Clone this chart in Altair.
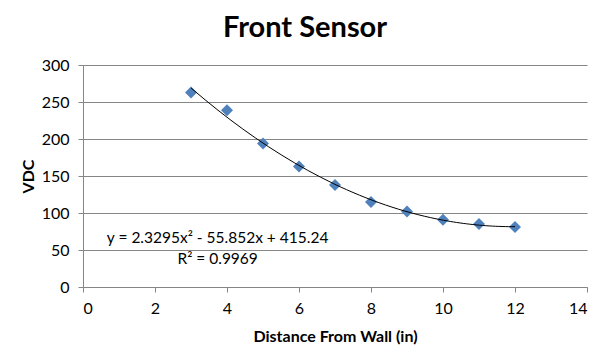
import altair as alt
import pandas as pd

distance = [3, 4, 5, 6, 7, 8, 9, 10, 11, 12]
vdc = [263, 239, 194, 163, 138, 115, 102, 91, 85, 81]

eq_text = ["y = 2.3295x² - 55.852x + 415.24", "R² = 0.9969"]
eq_x = [3.74, 3.74]
eq_y = [66, 38]

x_ticks = [0, 2, 4, 6, 8, 10, 12, 14]
y_ticks = [0, 50, 100, 150, 200, 250, 300]

df = pd.DataFrame({"d": distance, "v": vdc})
lab = pd.DataFrame({"x": eq_x, "y": eq_y, "t": eq_text})

FONT = "Lato"

xs = alt.Scale(domain=[0, 14])
ys = alt.Scale(domain=[0, 300])

x_axis = alt.Axis(values=x_ticks, grid=False, tickSize=5, labelOverlap=False,
                  domainColor="#868686", tickColor="#868686", labelPadding=8, titlePadding=12)
y_axis = alt.Axis(values=y_ticks, grid=True, gridColor="#868686", labelOverlap=False,
                  tickSize=5, domainColor="#868686", tickColor="#868686", labelPadding=9,
                  titlePadding=5)

XT = "Distance From Wall  (in)"
YT = "VDC"

base = alt.Chart(df)

pts = base.mark_point(shape="diamond", filled=True, color="#4F81BD", size=144, opacity=1).encode(
    x=alt.X("d:Q", scale=xs, title=XT, axis=x_axis),
    y=alt.Y("v:Q", scale=ys, title=YT, axis=y_axis),
)

trend = base.transform_regression("d", "v", method="poly", order=2).mark_line(
    color="black", strokeWidth=1
).encode(
    x=alt.X("d:Q", scale=xs, title=XT, axis=x_axis),
    y=alt.Y("v:Q", scale=ys, title=YT, axis=y_axis),
)

txt = alt.Chart(lab).mark_text(font=FONT, fontSize=15.5, color="#000000", align="center", baseline="middle").encode(
    x=alt.X("x:Q", scale=xs, title=XT, axis=x_axis),
    y=alt.Y("y:Q", scale=ys, title=YT, axis=y_axis),
    text="t:N",
)

chart = alt.layer(pts, trend, txt).properties(
    width=504, height=222,
    title=alt.Title("Front Sensor", font=FONT, fontSize=29, fontWeight="bold", color="#000000",
                    offset=14, dx=-30),
    autosize="none",
    padding={"left": 75, "top": 57, "right": 14, "bottom": 58},
).configure_view(stroke=None).configure_axis(
    labelFont=FONT, labelFontSize=16, labelColor="#000000",
    titleFont=FONT, titleFontSize=16, titleFontWeight="bold", titleColor="#000000",
    domainWidth=1, gridWidth=1,
)

chart.save("out.html", embed_options={"renderer": "svg", "actions": False})
